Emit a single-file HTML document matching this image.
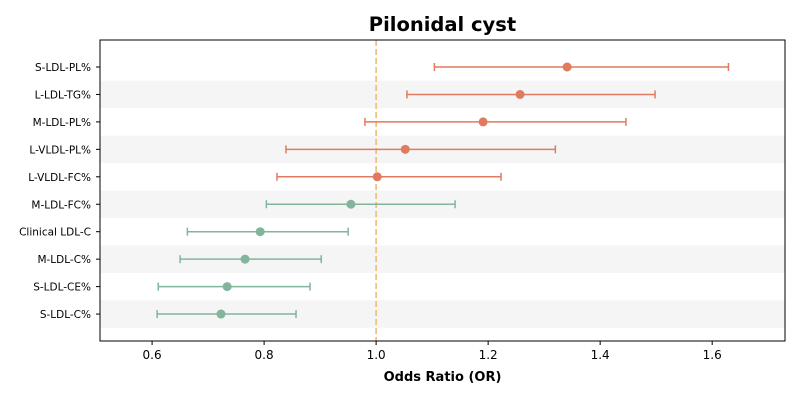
<!DOCTYPE html>
<html><head><meta charset="utf-8"><style>
body{margin:0;background:#fff;width:800px;height:400px;overflow:hidden}
text{font-family:"DejaVu Sans","Liberation Sans",sans-serif}
</style></head><body>
<svg id="chart" width="800" height="400" xmlns="http://www.w3.org/2000/svg"></svg>
<script>
const labels=["S-LDL-PL%","L-LDL-TG%","M-LDL-PL%","L-VLDL-PL%","L-VLDL-FC%","M-LDL-FC%","Clinical LDL-C","M-LDL-C%","S-LDL-CE%","S-LDL-C%"];
const orVals=[1.341,1.257,1.191,1.052,1.002,0.955,0.793,0.766,0.734,0.723];
const loVals=[1.104,1.055,0.980,0.839,0.823,0.804,0.663,0.650,0.611,0.609];
const hiVals=[1.629,1.498,1.446,1.320,1.223,1.141,0.950,0.902,0.882,0.857];
const xTicks=[0.6,0.8,1.0,1.2,1.4,1.6];
const NS="http://www.w3.org/2000/svg";
const svg=document.getElementById("chart");
const L=100,R=785,T=40,B=341;
const xMin=0.507,xMax=1.730;
const xs=v=>L+(v-xMin)/(xMax-xMin)*(R-L);
const step=27.45,y0=67;
const ys=i=>y0+i*step;
function el(t,a,txt){const e=document.createElementNS(NS,t);for(const k in a)e.setAttribute(k,a[k]);if(txt!==undefined)e.textContent=txt;svg.appendChild(e);return e;}
labels.forEach((l,i)=>{if(i%2==1){const r=el("rect",{x:L,y:ys(i)-step/2,width:R-L,height:step,fill:"#f5f5f5"});

}});
const ref=el("line",{x1:xs(1),x2:xs(1),y1:T,y2:B,stroke:"#f0c27f","stroke-width":1.8,"stroke-dasharray":"6,3"});


labels.forEach((l,i)=>{
const c=orVals[i]>=1?"#e07b5f":"#82b59c";
const y=ys(i);
const g=el("line",{x1:xs(loVals[i]),x2:xs(hiVals[i]),y1:y,y2:y,stroke:c,"stroke-width":1.5});


[loVals[i],hiVals[i]].forEach(v=>{const cap=el("line",{x1:xs(v),x2:xs(v),y1:y-4,y2:y+4,stroke:c,"stroke-width":1.5});

});
const p=el("circle",{cx:xs(orVals[i]),cy:y,r:4.5,fill:c});


const tk=el("line",{x1:L-4,x2:L,y1:y,y2:y,stroke:"#000"});


const t=el("text",{x:L-9,y:y+4,"text-anchor":"end","font-size":10.5},l);


});
xTicks.forEach(v=>{
const tk=el("line",{x1:xs(v),x2:xs(v),y1:B,y2:B+4,stroke:"#000"});


const t=el("text",{x:xs(v),y:B+18,"text-anchor":"middle","font-size":12},v.toFixed(1));


});
const fr=el("rect",{x:L,y:T,width:R-L,height:B-T,fill:"none",stroke:"#000","stroke-width":1});


const xt=el("text",{x:(L+R)/2,y:381,"text-anchor":"middle","font-size":13,"font-weight":"bold"},"Odds Ratio (OR)");


const tt=el("text",{x:(L+R)/2,y:31,"text-anchor":"middle","font-size":19.5,"font-weight":"bold"},"Pilonidal cyst");


</script>
</body></html>
